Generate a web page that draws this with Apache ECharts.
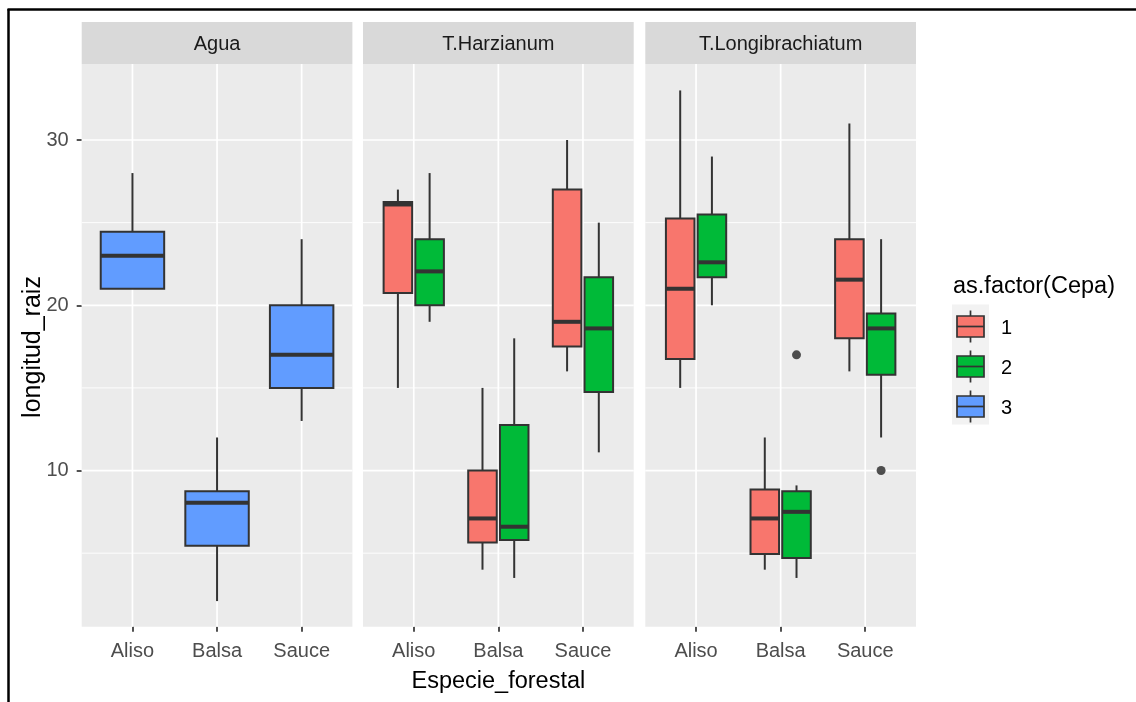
<!DOCTYPE html>
<html><head><meta charset="utf-8">
<script src="https://cdn.jsdelivr.net/npm/echarts@6/dist/echarts.min.js"></script>
<style>html,body{margin:0;padding:0;background:#fff}#c{width:1136px;height:702px}</style>
</head><body><div id="c"></div>
<script>
// ---------- data ----------
const panels = ['Agua', 'T.Harzianum', 'T.Longibrachiatum'];
const species = ['Aliso', 'Balsa', 'Sauce'];
const cepaLevels = ['1', '2', '3'];
const cepaColors = ['#F8766D', '#00BA38', '#619CFF'];
// box statistics per species: [min, q1, median, q3, max]
const aguaCepa3  = [[21, 21, 23, 24.45, 28], [2.1, 5.45, 8.05, 8.75, 12], [13, 15, 17, 20, 24]];
const harzCepa1  = [[15, 20.75, 26.1, 26.25, 27], [4, 5.65, 7.1, 10, 15], [16, 17.5, 19, 27, 30]];
const harzCepa2  = [[19, 20, 22.05, 24, 28], [3.5, 5.8, 6.6, 12.75, 18], [11.1, 14.75, 18.6, 21.7, 25]];
const longiCepa1 = [[15, 16.75, 21, 25.25, 33], [4, 4.95, 7.1, 8.85, 12], [16, 18, 21.55, 24, 31]];
const longiCepa2 = [[20, 21.7, 22.6, 25.5, 29], [3.5, 4.7, 7.5, 8.75, 9.1], [12, 15.8, 18.6, 19.5, 24]];
// outliers: [species, value]
const longiCepa2Outliers = [['Balsa', 17], ['Sauce', 10]];
const yTicks = [10, 20, 30];
const yMinorTicks = [5, 15, 25];

// ---------- layout ----------
const FONT = 'Liberation Sans, Arial, sans-serif';
const X_MIN = 0.4, X_MAX = 3.6, Y_MIN = 0.55, Y_MAX = 34.6;
const gridLefts = [81.7, 363, 645.3];
const GRID_W = 270.7, GRID_TOP = 64, GRID_H = 562.7;
const STRIP_TOP = 22;
const LINE_W = 2, MEDIAN_W = 4;

const panelGroups = [
  [{ cepa: '3', stats: aguaCepa3 }],
  [{ cepa: '1', stats: harzCepa1 }, { cepa: '2', stats: harzCepa2 }],
  [{ cepa: '1', stats: longiCepa1 }, { cepa: '2', stats: longiCepa2, outliers: longiCepa2Outliers }]
];

function renderBox(params, api) {
  const x = api.value(0);
  const mn = api.value(1), q1 = api.value(2), md = api.value(3), q3 = api.value(4), mx = api.value(5);
  const hw = api.value(6);
  const tl = api.coord([x - hw, q3]);
  const br = api.coord([x + hw, q1]);
  const c = api.coord([x, md]);
  const pMin = api.coord([x, mn]), pMax = api.coord([x, mx]);
  const color = api.visual('color');
  const st = { stroke: '#333333', lineWidth: LINE_W };
  return {
    type: 'group', children: [
      { type: 'line', shape: { x1: c[0], y1: tl[1], x2: c[0], y2: pMax[1] }, style: st },
      { type: 'line', shape: { x1: c[0], y1: br[1], x2: c[0], y2: pMin[1] }, style: st },
      { type: 'rect', shape: { x: tl[0], y: tl[1], width: br[0] - tl[0], height: br[1] - tl[1] },
        style: { fill: color, stroke: '#333333', lineWidth: LINE_W } },
      { type: 'line', shape: { x1: tl[0], y1: c[1], x2: br[0], y2: c[1] }, style: { stroke: '#333333', lineWidth: MEDIAN_W } }
    ]
  };
}

function renderGridLine(params, api) {
  const kind = api.value(0), v = api.value(1), minor = api.value(2);
  let p1, p2;
  if (kind === 0) { p1 = api.coord([X_MIN, v]); p2 = api.coord([X_MAX, v]); }
  else { p1 = api.coord([v, Y_MIN]); p2 = api.coord([v, Y_MAX]); }
  return { type: 'line', shape: { x1: p1[0], y1: p1[1], x2: p2[0], y2: p2[1] },
    style: { stroke: '#FFFFFF', lineWidth: minor ? 0.9 : 1.7 } };
}

const grids = [], xAxes = [], yAxes = [], series = [], graphics = [];
panels.forEach((p, i) => {
  grids.push({ left: gridLefts[i], top: GRID_TOP, width: GRID_W, height: GRID_H,
    show: true, backgroundColor: '#EBEBEB', borderWidth: 0 });
  xAxes.push({
    type: 'value', gridIndex: i, min: X_MIN, max: X_MAX,
    axisLine: { show: false }, splitLine: { show: false },
    axisTick: { show: true, customValues: [1, 2, 3], length: 5, lineStyle: { color: '#333333', width: 1.7 } },
    axisLabel: { show: true, customValues: [1, 2, 3], formatter: v => species[Math.round(v) - 1],
      color: '#4D4D4D', fontSize: 20, fontFamily: FONT, margin: 15 }
  });
  yAxes.push({
    type: 'value', gridIndex: i, min: Y_MIN, max: Y_MAX,
    axisLine: { show: false }, splitLine: { show: false },
    axisTick: { show: i === 0, customValues: yTicks, length: 5, lineStyle: { color: '#333333', width: 1.7 } },
    axisLabel: { show: i === 0, customValues: yTicks, color: '#4D4D4D', fontSize: 20, fontFamily: FONT, margin: 13 }
  });
  // grid lines
  const gl = [];
  yMinorTicks.forEach(v => gl.push([0, v, 1]));
  yTicks.forEach(v => gl.push([0, v, 0]));
  species.forEach((s, k) => gl.push([1, k + 1, 0]));
  series.push({ type: 'custom', xAxisIndex: i, yAxisIndex: i, silent: true, z: 1,
    renderItem: renderGridLine, data: gl });
  // boxes
  const groups = panelGroups[i];
  const n = groups.length;
  const slot = 0.75 / n;
  const boxW = n > 1 ? slot * 0.9 : 0.75;
  groups.forEach((g, gi) => {
    const off = -0.375 + slot * (gi + 0.5);
    const ci = cepaLevels.indexOf(g.cepa);
    series.push({
      type: 'custom', name: g.cepa, xAxisIndex: i, yAxisIndex: i, z: 2,
      itemStyle: { color: cepaColors[ci] },
      renderItem: renderBox,
      encode: { x: 0, y: [1, 2, 3, 4, 5] },
      data: g.stats.map((s, k) => [k + 1 + off, s[0], s[1], s[2], s[3], s[4], boxW / 2])
    });
    if (g.outliers) {
      series.push({
        type: 'scatter', xAxisIndex: i, yAxisIndex: i, z: 3, symbolSize: 9,
        itemStyle: { color: '#262626' },
        data: g.outliers.map(o => [species.indexOf(o[0]) + 1 + off, o[1]])
      });
    }
  });
  // strip
  graphics.push({ type: 'rect', shape: { x: gridLefts[i], y: STRIP_TOP, width: GRID_W, height: GRID_TOP - STRIP_TOP },
    style: { fill: '#D9D9D9' }, silent: true });
  graphics.push({ type: 'text', x: gridLefts[i] + GRID_W / 2, y: (STRIP_TOP + GRID_TOP) / 2 + 1.5,
    style: { text: p, font: '20px ' + FONT, fill: '#1A1A1A', align: 'center', verticalAlign: 'middle' } });
});

// axis titles
graphics.push({ type: 'text', x: gridLefts[1] + GRID_W / 2, y: 682,
  style: { text: 'Especie_forestal', font: '23.5px ' + FONT, fill: '#000', align: 'center', verticalAlign: 'middle' } });
graphics.push({ type: 'text', x: 33, y: 347, rotation: Math.PI / 2,
  style: { text: 'longitud_raiz', font: '25px ' + FONT, fill: '#000', align: 'center', verticalAlign: 'middle' } });

// legend
graphics.push({ type: 'text', x: 953, y: 287,
  style: { text: 'as.factor(Cepa)', font: '23.5px ' + FONT, fill: '#000', align: 'left', verticalAlign: 'middle' } });
graphics.push({ type: 'rect', shape: { x: 952, y: 304.5, width: 37, height: 120 }, style: { fill: '#F2F2F2' } });
cepaLevels.forEach((c, k) => {
  const cy = 326.5 + 40 * k;
  graphics.push({ type: 'line', shape: { x1: 970.5, y1: cy - 16, x2: 970.5, y2: cy + 16 }, style: { stroke: '#333333', lineWidth: 1.7 } });
  graphics.push({ type: 'rect', shape: { x: 957, y: cy - 10.5, width: 27, height: 21 },
    style: { fill: cepaColors[k], stroke: '#333333', lineWidth: 1.7 } });
  graphics.push({ type: 'line', shape: { x1: 957, y1: cy, x2: 984, y2: cy }, style: { stroke: '#333333', lineWidth: 1.7 } });
  graphics.push({ type: 'text', x: 1001, y: cy + 1.5,
    style: { text: c, font: '20px ' + FONT, fill: '#000', align: 'left', verticalAlign: 'middle' } });
});

// outer frame
graphics.push({ type: 'line', shape: { x1: 8.5, y1: 9, x2: 8.5, y2: 702 }, style: { stroke: '#000', lineWidth: 2.5 } });
graphics.push({ type: 'line', shape: { x1: 7.5, y1: 9.5, x2: 1136, y2: 9.5 }, style: { stroke: '#000', lineWidth: 2.5 } });

const chart = echarts.init(document.getElementById('c'), null, { renderer: 'canvas' });
chart.setOption({
  animation: false,
  backgroundColor: '#FFFFFF',
  grid: grids, xAxis: xAxes, yAxis: yAxes, series: series,
  graphic: graphics
});
</script></body></html>
